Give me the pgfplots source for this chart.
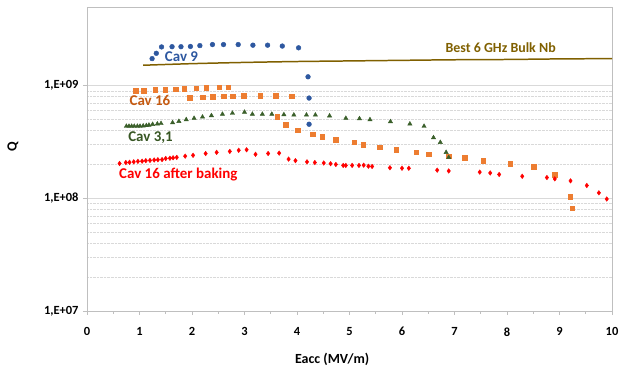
\documentclass[border=0pt]{standalone}
\usepackage{pgfplots}
\pgfplotsset{compat=1.18}
\usepackage{fontspec}
\setmainfont{Carlito}
\definecolor{cblue}{RGB}{46,88,160}
\definecolor{corange}{RGB}{237,125,49}
\definecolor{corangedark}{RGB}{197,90,17}
\definecolor{cgreen}{RGB}{58,95,42}
\definecolor{cgreenlab}{RGB}{55,86,35}
\definecolor{cred}{RGB}{255,0,0}
\definecolor{cbrown}{RGB}{128,96,0}
\definecolor{framegray}{RGB}{191,191,191}
\definecolor{gridgray}{RGB}{217,217,217}
\begin{document}
\begin{tikzpicture}
\path[use as bounding box] (-87bp,-58bp) rectangle (532bp,311bp);
\begin{axis}[
  at={(0,0)}, anchor=south west,
  scale only axis, width=525bp, height=304bp,
  xmin=0, xmax=10, ymode=log, ymin=1e7, ymax=5e9,
  xtick={0,1,...,10}, minor x tick num=1,
  ytick={1e7,1e8,1e9}, yticklabels={{1,E+07},{1,E+08},{1,E+09}},
  tick align=outside, major tick length=4bp, minor tick length=3bp,
  axis line style={framegray, line width=0.9pt},
  every tick/.style={framegray, line width=0.8pt},
  minor y tick style={draw=none},
  xtick pos=bottom, ytick pos=left,
  ymajorgrids, yminorgrids,
  major grid style={gridgray, line width=0.6pt},
  minor grid style={gridgray, densely dotted, line width=0.5pt},
  /pgf/number format/assume math mode=true,
  tick label style={font=\fontsize{12.5}{14}\selectfont\bfseries, black},
  xticklabel style={yshift=-9bp},
  yticklabel style={xshift=-1bp},
  xlabel={Eacc (MV/m)}, ylabel={Q},
  label style={font=\fontsize{14}{16}\selectfont\bfseries},
  xlabel style={at={(axis description cs:0.467,-0.158)}, anchor=center},
  ylabel style={at={(axis description cs:-0.141,0.54)}, anchor=center},
  clip=false,
]
% Best 6 GHz Bulk Nb
\addplot[cbrown, line width=1.5pt, no marks, smooth] coordinates {
(1.07,1.52e9) (2,1.57e9) (3,1.61e9) (4,1.64e9) (5,1.66e9) (6,1.68e9)
(7,1.70e9) (8,1.71e9) (9,1.73e9) (10,1.74e9)};
% Cav 9
\addplot[only marks, mark=*, mark size=2.4pt, cblue, mark options={draw=cblue, fill=cblue}] coordinates {
(1.24,1.74e9) (1.32,1.94e9) (1.42,2.21e9) (1.62,2.22e9) (1.79,2.22e9) (1.97,2.23e9)
(2.15,2.27e9) (2.39,2.32e9) (2.60,2.32e9) (2.88,2.32e9) (3.16,2.29e9) (3.44,2.29e9)
(3.72,2.25e9) (4.03,2.17e9) (4.21,1.20e9) (4.23,7.77e8) (4.23,4.55e8)};
% Cav 16
\addplot[only marks, mark=square*, mark size=2.3pt, corange, mark options={draw=corange, fill=corange}] coordinates {
(0.93,9.08e8) (1.08,9.08e8) (1.30,9.2e8) (1.49,9.25e8) (1.69,9.33e8) (1.85,9.37e8)
(2.08,9.53e8) (2.27,9.6e8) (2.52,9.66e8) (2.69,9.7e8)
(1.96,7.87e8) (2.20,7.9e8) (2.39,7.95e8) (2.60,8.09e8) (2.77,8.09e8) (2.99,8.14e8)
(3.30,8.18e8) (3.59,8.18e8) (3.90,8.09e8)
(3.62,5.28e8) (3.78,4.49e8) (4.01,4.02e8) (4.30,3.70e8) (4.48,3.53e8) (4.74,3.30e8)
(5.09,3.16e8) (5.26,2.99e8) (5.57,2.84e8) (5.89,2.70e8) (6.27,2.56e8) (6.51,2.47e8)
(6.89,2.36e8) (7.19,2.29e8) (7.55,2.17e8) (8.06,2.02e8) (8.51,1.90e8) (8.91,1.62e8)
(9.20,1.04e8) (9.24,8.15e7)};
% Cav 3,1
\addplot[only marks, mark=triangle*, mark size=2.5pt, cgreen, mark options={draw=cgreen, fill=cgreen}] coordinates {
(0.75,4.37e8) (0.80,4.37e8) (0.85,4.37e8) (0.90,4.37e8) (0.96,4.37e8) (1.01,4.37e8)
(1.07,4.4e8) (1.13,4.43e8) (1.18,4.47e8) (1.25,4.54e8) (1.34,4.58e8) (1.41,4.62e8)
(1.63,4.7e8) (1.75,4.83e8) (1.89,5.0e8) (2.04,5.14e8) (2.20,5.28e8) (2.37,5.43e8)
(2.58,5.59e8) (2.77,5.7e8) (3.00,5.82e8) (3.15,5.59e8) (3.34,5.59e8) (3.52,5.59e8)
(3.75,5.54e8) (3.94,5.5e8) (4.18,5.5e8) (4.35,5.5e8) (4.62,5.4e8) (4.93,5.14e8)
(5.19,5.1e8) (5.39,5.0e8) (5.78,4.8e8) (6.15,4.58e8) (6.42,4.37e8) (6.60,3.46e8)
(6.73,3.14e8) (6.84,2.56e8) (6.89,2.31e8)};
% Cav 16 after baking
\addplot[only marks, mark=diamond*, mark size=2.3pt, cred, mark options={draw=cred, fill=cred}] coordinates {
(0.62,2.04e8) (0.74,2.08e8) (0.81,2.09e8) (0.89,2.11e8) (0.97,2.13e8) (1.05,2.14e8)
(1.12,2.16e8) (1.20,2.17e8) (1.28,2.19e8) (1.35,2.2e8) (1.43,2.21e8) (1.50,2.26e8)
(1.58,2.27e8) (1.64,2.29e8) (1.71,2.31e8) (1.87,2.37e8) (2.02,2.41e8) (2.26,2.5e8)
(2.47,2.56e8) (2.72,2.61e8) (2.89,2.67e8) (3.04,2.70e8) (3.21,2.46e8) (3.45,2.5e8)
(3.66,2.52e8) (3.84,2.23e8) (3.97,2.16e8) (4.19,2.11e8) (4.34,2.08e8) (4.51,2.06e8)
(4.64,2.03e8) (4.74,2.0e8) (4.88,1.96e8) (4.93,1.96e8) (5.05,1.96e8) (5.18,1.96e8)
(5.27,1.97e8) (5.36,1.93e8) (5.43,1.92e8) (5.77,1.87e8) (6.00,1.85e8) (6.13,1.85e8)
(6.67,1.78e8) (6.89,1.75e8) (7.48,1.71e8) (7.68,1.68e8) (7.85,1.63e8) (8.29,1.57e8)
(8.76,1.53e8) (8.91,1.49e8) (9.21,1.43e8) (9.52,1.30e8) (9.75,1.12e8) (9.90,9.87e7)};
% labels
\node[font=\fontsize{15}{17}\selectfont\bfseries, text=cblue] at (axis cs:1.80,1.83e9) {Cav 9};
\node[font=\fontsize{15}{17}\selectfont\bfseries, text=corangedark] at (axis cs:1.20,7.35e8) {Cav 16};
\node[font=\fontsize{15}{17}\selectfont\bfseries, text=cgreenlab] at (axis cs:1.21,3.47e8) {Cav 3,1};
\node[font=\fontsize{15}{17}\selectfont\bfseries, text=cred] at (axis cs:1.74,1.64e8) {Cav 16 after baking};
\node[font=\fontsize{14}{16}\selectfont\bfseries, text=cbrown] at (axis cs:7.88,2.18e9) {Best 6 GHz Bulk Nb};
\end{axis}
\end{tikzpicture}
\end{document}
